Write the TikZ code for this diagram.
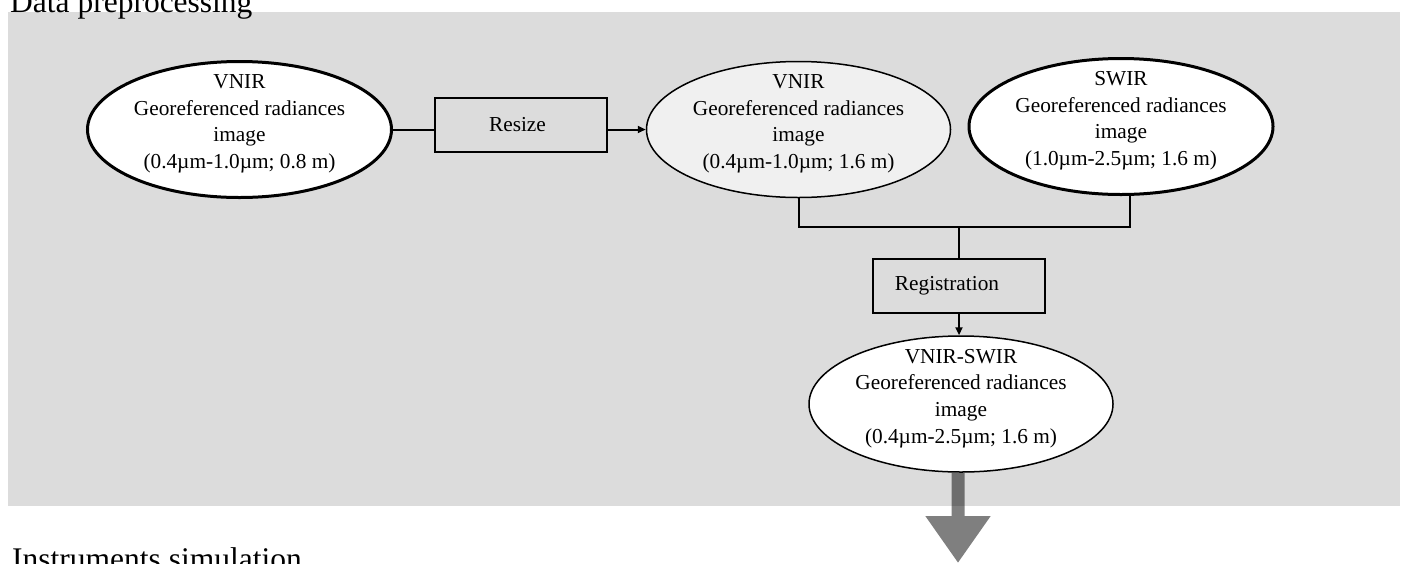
\documentclass[tikz,border=0pt]{standalone}
\usepackage{fontspec}
\setmainfont{Liberation Serif}
\usetikzlibrary{arrows.meta,positioning,shapes.geometric}
\definecolor{Panel}{HTML}{DCDCDC}
\definecolor{Soft}{HTML}{F0F0F0}
\newcommand{\radiances}[3]{#1\\Georeferenced radiances\\image\\(#2; #3)\rule[-16pt]{0pt}{0pt}}
\tikzset{img/.style={ellipse,draw,fill=white,line width=1.5pt,minimum width=304pt,
    minimum height=136pt,inner xsep=0pt,inner ysep=-8pt,align=center,
    font=\fontsize{21.3}{26.7}\selectfont},
  rawimg/.style={img,line width=3pt},
  procbox/.style={draw,line width=2pt,minimum width=172pt,minimum height=54pt,
    inner sep=0pt,font=\fontsize{21.3}{26.7}\selectfont},
  link/.style={line width=2pt},
  edge/.style={link,-{Triangle[length=8pt,width=7pt]}},
  heading/.style={anchor=base west,inner sep=0pt,font=\fontsize{31.5}{38}\selectfont}}

\begin{document}
\begin{tikzpicture}[x=1pt,y=-1pt]
  \useasboundingbox (0,0) rectangle (1402,563);
  \clip (0,0) rectangle (1402,563);
  \fill[Panel] (8,12) rectangle (1400,506);
  \node[heading] (title) at (10,12.5) {Data preprocessing};
  \node[heading] (next) at (12,569) {Instruments simulation};

  \node[rawimg] (vnir) at (239.5,129.5) {\radiances{VNIR}{0.4µm-1.0µm}{0.8 m}};
  \node[procbox] (resize) at (521,125) {Resize\hspace*{7pt}};
  \node[img,fill=Soft] (vnirhr) at (798.5,129.5) {\radiances{VNIR}{0.4µm-1.0µm}{1.6 m}};
  \node[rawimg] (swir) at (1121,126.5) {\radiances{SWIR}{1.0µm-2.5µm}{1.6 m}};
  \node[procbox] (reg) at (959,286) {Registration\hspace*{24pt}};
  \node[img] (fused) at (961,404) {\radiances{VNIR-SWIR}{0.4µm-2.5µm}{1.6 m}};
  \coordinate (join) at (959,227);
  \coordinate (down) at (958,563);

  \draw[link] (vnir.east) -- (vnir.east -| resize.west);
  \draw[edge] (resize.east |- vnirhr.west) -- (vnirhr.west);
  \draw[link] (vnirhr.south) |- (join) -| ([xshift=9pt]swir.south);
  \draw[link] (join) -- (reg.north);
  \draw[edge] (reg.south) -- (reg.south |- fused.north);

  \begin{scope}[transparency group,opacity=0.5]
    \draw[line width=13pt,-{Triangle[length=47pt,width=62pt]}] (fused.south -| down) -- (down);
  \end{scope}
\end{tikzpicture}
\end{document}
